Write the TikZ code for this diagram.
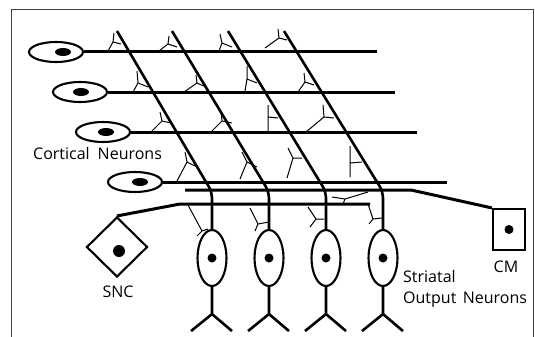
\documentclass[tikz,border=0pt]{standalone}
\usepackage{fontspec}
\setmainfont{Open Sans}
\usetikzlibrary{shapes.geometric}

\begin{document}
\begin{tikzpicture}[x=1pt,y=-1pt,
        cortex/.style={draw,ellipse,line width=2.1pt,minimum width=54pt,minimum height=20pt,inner sep=0pt},
        striato/.style={draw,ellipse,line width=2.1pt,minimum width=29pt,minimum height=56pt,inner sep=0pt},
        assone/.style={line width=3pt},
        dendrite/.style={line width=2.6pt},
        spina/.style={line width=1pt},
        etichetta/.style={font=\fontsize{16}{19}\selectfont,inner sep=0pt}]
        \useasboundingbox (0,0) rectangle (535,337);
        \draw[black!75,line width=0.9pt] (11,337) -- (11,9) -- (533,9) -- (533,337);
        %neuroni corticali
        \foreach \cx/\cy/\nx/\fine [count=\i] in {56/52/63/377, 80/92/81/395, 103/132/106/417, 135/182/140/447} {
        \node[cortex] (c\i) at (\cx,\cy) {};
        \fill (\nx,\cy) ellipse (8 and 4);
        \coordinate (a\i) at (\fine,\cy);
        \draw[assone] (c\i) -- (a\i);}
        %neuroni striatali
        \foreach \t/\x [count=\i] in {117/212, 172/269, 228/326, 284/383} {
        \node[striato] (s\i) at (\x,258) {};
        \fill (s\i) circle (4.5);
        \coordinate (d\i) at (\t,31);
        \draw[dendrite] (d\i) -- (\x-6,182) .. controls (\x-1,190) .. (\x,198) -- (s\i.north);
        \draw[dendrite] (s\i.south) -- ++(0,27) coordinate (f\i) -- ++(-21,17) (f\i) -- ++(20,17);}
        %spine
        \foreach \fx/\fy/\ax/\ay/\bx/\by/\gx/\gy in {
        113/42/-5/9/8/2/1/-9, 168/44/-9/7/9/3/1/-8, 222/43/-3/8/10/4/-2/-9, 279/38/-14/10/8/2/-1/-9,
        138/83/-5/9/10/4/-1/-12, 197/83/-13/9/9/4/-1/-8, 247/79/-2/12/10/4/0/-13, 305/82/-7/10/9/3/-1/-9,
        162/121/-11/11/9/2/-2/-9, 222/121/-11/11/10/2/-1/-9, 268/117/0/14/10/1/0/-12, 324/117/-18/15/10/1/-1/-12,
        187/162/-10/19/8/4/-2/-10, 247/162/-7/17/10/5/-5/-10, 293/158/-6/20/9/0/-5/-10, 350/163/0/14/12/-1/0/-17,
        202/231/-14/-26/-5/5/6/-2, 258/224/-8/-16/-3/7/11/-2, 316/219/-8/-12/-6/8/8/0, 373/219/-5/-15/-4/5/9/-1,
        345/199/-13/-2/23/-7/-2/5} {
        \draw[spina] (\fx,\fy) -- ++(\ax,\ay) (\fx,\fy) -- ++(\bx,\by) (\fx,\fy) -- ++(\gx,\gy);}
        %SNC e CM
        \node[draw,diamond,line width=2.1pt,minimum width=61pt,minimum height=60pt,inner sep=0pt] (snc) at (117,247) {};
        \fill (119,251) circle (6);
        \coordinate (e1) at (370,204);
        \draw[assone] (snc.north) -- (180,204) -- (e1);
        \node[draw,rectangle,line width=2.1pt,minimum width=32pt,minimum height=41pt,inner sep=0pt] (cm) at (509,229.5) {};
        \fill (cm) circle (4.5);
        \coordinate (e2) at (185,190);
        \draw[assone] (e2) -- (411,190) -- (cm.north west);
        %etichette
        \node[etichetta,anchor=base west] (lcort) at (33,159) {Cortical\hspace{0.5em}Neurons};
        \node[etichetta,anchor=base] (lsnc) at (118,297) {SNC};
        \node[etichetta,anchor=base] (lcm) at (506,272) {CM};
        \node[etichetta,anchor=base west] (lstr) at (403,282) {Striatal};
        \node[etichetta,anchor=base west] (lout) at (403,303) {Output\hspace{0.4em}Neurons};
    \end{tikzpicture}
\end{document}
